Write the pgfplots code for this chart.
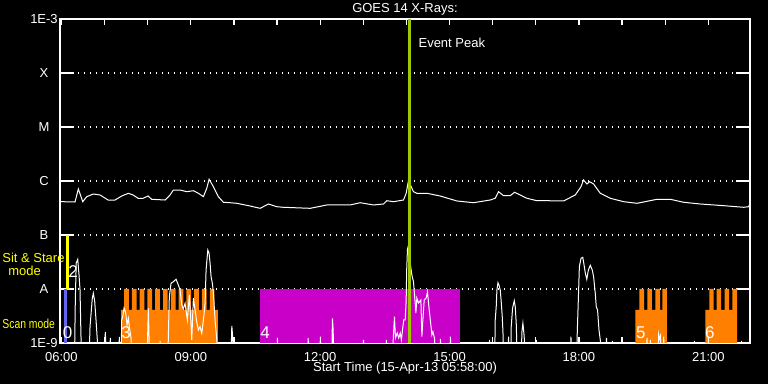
\documentclass[border=0pt]{standalone}
\usepackage{graphicx}
\usepackage{pgfplots}
\pgfplotsset{compat=1.18}
\usepackage{fontspec}
\setmainfont{Liberation Sans}
\definecolor{modeblue}{RGB}{100,100,240}
\definecolor{modeyellow}{RGB}{255,255,0}
\definecolor{modeorange}{RGB}{255,128,0}
\definecolor{modemagenta}{RGB}{200,0,200}
\definecolor{peakgreen}{RGB}{160,200,0}
\newcommand{\lbl}{\fontsize{6.5}{7}\selectfont}
\begin{document}
\begin{tikzpicture}
\useasboundingbox (0,0) rectangle (384pt,192pt);
\fill[black] (0,0) rectangle (384pt,192pt);
\begin{axis}[
  at={(30pt,20.5pt)}, anchor=south west,
  scale only axis, width=345pt, height=162pt,
  xmin=5.9667, xmax=21.9667, ymin=-9, ymax=-3,
  axis line style={white, line width=0.6pt},
  xtick={6,9,12,15,18,21},
  xticklabels={06:00,09:00,12:00,15:00,18:00,21:00},
  minor xtick={7,8,10,11,13,14,16,17,19,20},
  ytick={-9,-8,-7,-6,-5,-4,-3},
  yticklabels={1E-9,A,B,C,M,X,1E-3},
  tick style={white, line width=0.6pt},
  major tick length=7pt, minor tick length=3pt,
  xtick style={/pgfplots/major tick length=3pt},
  ymajorgrids,
  major grid style={white, dash pattern=on 0.6pt off 2.4pt, line width=0.6pt},
  tick label style={white, font=\lbl},
  xticklabel style={yshift=-1pt},
  yticklabel style={anchor=center, xshift=-8pt},
]
% Scan mode / sit & stare bars
\addplot[fill=modeblue, draw=none] coordinates {(6.060,-9) (6.136,-9) (6.136,-8) (6.060,-8)};
\addplot[fill=modeyellow, draw=none] coordinates {(6.106,-8) (6.176,-8) (6.176,-7) (6.106,-7)};
% block 3
\addplot[fill=modeorange, draw=none] coordinates {(7.382,-9) (7.382,-8.389) (7.452,-8.389) (7.452,-8) (7.561,-8) (7.561,-8.389) (7.633,-8.389) (7.633,-8) (7.742,-8) (7.742,-8.389) (7.813,-8.389) (7.813,-8) (7.922,-8) (7.922,-8.389) (7.994,-8.389) (7.994,-8) (8.103,-8) (8.103,-8.389) (8.175,-8.389) (8.175,-8) (8.284,-8) (8.284,-8.389) (8.356,-8.389) (8.356,-8) (8.465,-8) (8.465,-8.389) (8.536,-8.389) (8.536,-8) (8.645,-8) (8.645,-8.389) (8.717,-8.389) (8.717,-8) (8.826,-8) (8.826,-8.389) (8.898,-8.389) (8.898,-8) (9.007,-8) (9.007,-8.389) (9.078,-8.389) (9.078,-8) (9.187,-8) (9.187,-8.389) (9.259,-8.389) (9.259,-8) (9.368,-8) (9.368,-8.389) (9.440,-8.389) (9.440,-8) (9.549,-8) (9.549,-8.389) (9.626,-8.389) (9.626,-9)};
% block 4
\addplot[fill=modemagenta, draw=none] coordinates {(10.607,-9) (15.231,-9) (15.231,-8) (10.607,-8)};
% block 5
\addplot[fill=modeorange, draw=none] coordinates {(19.307,-9) (19.307,-8.389) (19.400,-8.389) (19.400,-8) (19.509,-8) (19.509,-8.389) (19.585,-8.389) (19.585,-8) (19.694,-8) (19.694,-8.389) (19.771,-8.389) (19.771,-8) (19.880,-8) (19.880,-8.389) (19.933,-8.389) (19.933,-8) (20.042,-8) (20.042,-9)};
% block 6
\addplot[fill=modeorange, draw=none] coordinates {(20.931,-9) (20.931,-8.389) (21.024,-8.389) (21.024,-8) (21.124,-8) (21.124,-8.389) (21.193,-8.389) (21.193,-8) (21.295,-8) (21.295,-8.389) (21.379,-8.389) (21.379,-8) (21.480,-8) (21.480,-8.389) (21.558,-8.389) (21.558,-8) (21.666,-8) (21.666,-9)};
% long channel (log10 flux)
\addplot[white, line width=0.5pt] coordinates {
(5.967,-6.383) (6.006,-6.383) (6.315,-6.389) (6.392,-6.148) (6.494,-6.383) (6.586,-6.291) (6.740,-6.241) (6.895,-6.259) (7.081,-6.352) (7.243,-6.352) (7.398,-6.278) (7.552,-6.228) (7.661,-6.259) (7.777,-6.320) (7.893,-6.320) (8.009,-6.278) (8.094,-6.339) (8.403,-6.352) (8.519,-6.259) (8.596,-6.167) (8.751,-6.167) (8.906,-6.198) (9.060,-6.180) (9.176,-6.228) (9.292,-6.291) (9.370,-6.135) (9.424,-5.968) (9.524,-6.106) (9.640,-6.291) (9.756,-6.394) (9.911,-6.402) (10.066,-6.413) (10.375,-6.463) (10.607,-6.506) (10.800,-6.426) (10.994,-6.476) (11.148,-6.487) (11.767,-6.506) (12.154,-6.444) (12.695,-6.444) (12.927,-6.402) (13.236,-6.444) (13.468,-6.426) (13.546,-6.365) (13.700,-6.383) (13.932,-6.352) (13.994,-6.228) (14.047,-5.994) (14.163,-6.198) (14.242,-6.228) (14.475,-6.228) (14.783,-6.278) (15.170,-6.370) (15.556,-6.402) (15.943,-6.352) (16.059,-6.320) (16.136,-6.198) (16.252,-6.272) (16.407,-6.272) (16.507,-6.209) (16.639,-6.259) (16.794,-6.320) (17.026,-6.365) (17.258,-6.365) (17.644,-6.370) (17.915,-6.259) (18.047,-6.106) (18.107,-5.981) (18.186,-6.056) (18.247,-6.013) (18.340,-6.056) (18.495,-6.228) (18.727,-6.320) (19.036,-6.383) (19.346,-6.413) (19.810,-6.339) (20.119,-6.339) (20.428,-6.394) (20.815,-6.426) (21.356,-6.457) (21.820,-6.487) (21.936,-6.476) (21.967,-6.413)};
% short channel (log10 flux)
\addplot[white, line width=0.5pt] coordinates {
(5.967,-9.3) (6.303,-9.3) (6.322,-8.204) (6.343,-7.519) (6.378,-7.450) (6.408,-7.741) (6.431,-8.019) (6.450,-8.759) (6.466,-9.3)
(6.640,-9.3) (6.663,-8.698) (6.716,-8.167) (6.740,-8.080) (6.772,-8.235) (6.802,-8.574) (6.832,-8.944) (6.849,-9.3)
(6.988,-9.3) (7.018,-8.796) (7.046,-9.3) (7.115,-9.3) (7.134,-8.907) (7.150,-9.3) (7.324,-9.3) (7.343,-8.889) (7.359,-9.3)
(7.382,-9.3) (7.398,-8.574) (7.421,-8.513) (7.452,-8.352) (7.486,-8.426) (7.521,-8.667) (7.551,-8.543) (7.579,-8.722) (7.614,-8.907) (7.633,-9.3)
(7.985,-9.3) (8.016,-8.357) (8.043,-9.3) (8.275,-9.3) (8.287,-8.963) (8.298,-9.3)
(8.468,-9.3) (8.479,-8.883) (8.502,-8.143) (8.542,-7.894) (8.595,-7.865) (8.658,-7.820) (8.711,-7.926) (8.751,-8.019) (8.790,-8.296) (8.827,-8.370) (8.867,-8.265) (8.920,-8.574) (8.966,-8.111) (8.999,-8.574) (9.022,-8.944) (9.059,-8.172) (9.099,-8.389) (9.138,-8.611) (9.176,-8.759) (9.215,-8.698) (9.254,-8.820) (9.292,-8.574) (9.331,-8.265) (9.354,-7.648) (9.394,-7.278) (9.424,-7.339) (9.447,-7.524) (9.470,-7.772) (9.500,-7.894) (9.524,-8.080) (9.563,-8.574) (9.603,-8.944) (9.621,-9.3)
(9.930,-9.3) (9.951,-8.685) (9.969,-8.870) (9.985,-9.3)
(10.997,-9.3) (11.009,-8.907) (11.020,-9.3) (11.709,-9.3) (11.721,-8.907) (11.737,-9.3) (11.992,-9.3) (12.004,-8.883) (12.018,-9.3)
(12.268,-9.3) (12.284,-8.543) (12.301,-8.759) (12.315,-9.3) (12.990,-9.3) (13.004,-8.944) (13.020,-9.3) (13.519,-9.3) (13.535,-8.944) (13.554,-9.3)
(13.670,-9.3) (13.698,-8.870) (13.723,-8.513) (13.746,-8.907) (13.786,-8.815) (13.821,-8.907) (13.856,-8.815) (13.883,-8.944) (13.909,-8.759) (13.937,-8.574) (13.971,-8.574) (13.994,-8.204) (14.006,-7.648) (14.024,-7.265) (14.052,-7.370) (14.087,-7.519) (14.126,-7.741) (14.163,-7.865) (14.203,-8.259) (14.219,-8.444) (14.242,-8.167) (14.279,-8.259) (14.335,-8.204) (14.358,-8.883) (14.381,-8.574) (14.412,-8.204) (14.458,-8.167) (14.488,-8.050) (14.528,-8.389) (14.567,-8.667) (14.590,-8.852) (14.614,-8.791) (14.651,-8.913) (14.679,-9.3)
(14.772,-9.3) (14.788,-8.926) (14.807,-9.3) (15.004,-9.3) (15.020,-8.883) (15.039,-9.3)
(15.915,-9.3) (15.927,-8.944) (15.943,-9.3)
(16.047,-9.3) (16.059,-8.574) (16.082,-8.328) (16.098,-8.019) (16.122,-7.883) (16.145,-7.926) (16.175,-8.019) (16.198,-8.235) (16.222,-8.513) (16.238,-8.791) (16.257,-9.3)
(16.356,-9.3) (16.368,-8.883) (16.384,-9.3) (16.419,-9.3) (16.430,-8.698) (16.461,-8.357) (16.500,-8.217) (16.523,-8.328) (16.546,-8.635) (16.569,-9.3)
(16.662,-9.3) (16.678,-8.791) (16.701,-8.635) (16.731,-8.883) (16.748,-9.3) (16.998,-9.3) (17.010,-8.944) (17.026,-9.3)
(17.804,-9.3) (17.815,-8.883) (17.830,-9.3) (17.945,-9.3) (17.963,-8.759) (17.987,-8.172) (18.010,-7.587) (18.049,-7.431) (18.089,-7.413) (18.119,-7.556) (18.149,-7.709) (18.182,-7.820) (18.219,-7.648) (18.263,-7.561) (18.309,-7.648) (18.340,-7.772) (18.379,-8.080) (18.402,-8.328) (18.432,-8.389) (18.465,-8.759) (18.495,-8.944) (18.511,-9.3)
(18.627,-9.3) (18.639,-8.907) (18.653,-9.3) (18.762,-9.3) (18.774,-8.963) (18.786,-9.3)
(19.568,-9.3) (19.579,-8.907) (19.598,-9.3) (19.645,-9.3) (19.655,-8.944) (19.667,-9.3) (19.837,-9.3) (19.848,-8.852) (19.865,-8.926) (19.888,-8.870) (19.911,-9.3) (19.953,-9.3) (19.964,-8.883) (19.981,-9.3)
(20.665,-9.3) (20.676,-8.963) (20.688,-9.3) (20.991,-9.3) (21.001,-8.883) (21.015,-9.3) (21.759,-9.3) (21.771,-8.963) (21.782,-9.3) (21.967,-9.3)};
% event peak line
\addplot[peakgreen, line width=1.5pt] coordinates {(14.064,-9) (14.064,-3)};
\node[white, anchor=west, inner sep=0pt, font=\lbl] at (axis cs:14.064,-3.437) [xshift=4.5pt] {Event Peak};
\node[white, font=\fontsize{8.5}{9}\selectfont] at (axis cs:6.141,-8.815) {0};
\node[white, font=\fontsize{8.5}{9}\selectfont] at (axis cs:6.269,-7.676) {2};
\node[white, font=\fontsize{8.5}{9}\selectfont] at (axis cs:7.498,-8.815) {3};
\node[white, font=\fontsize{8.5}{9}\selectfont] at (axis cs:10.723,-8.815) {4};
\node[white, font=\fontsize{8.5}{9}\selectfont] at (axis cs:19.435,-8.815) {5};
\node[white, font=\fontsize{8.5}{9}\selectfont] at (axis cs:21.036,-8.815) {6};
\end{axis}
\node[white, font=\lbl] at (202.5pt,187.5pt) {GOES 14 X-Rays:};
\node[white, font=\lbl] at (202.5pt,8pt) {Start Time (15-Apr-13 05:58:00)};
\node[modeyellow, font=\lbl, anchor=west, inner sep=0pt] at (1pt,63pt) {Sit \& Stare};
\node[modeyellow, font=\lbl] at (12.3pt,56.5pt) {mode};
\node[modeyellow, font=\lbl, anchor=west, inner sep=0pt] at (1pt,30.25pt) {\scalebox{0.8}[1]{Scan mode}};
\end{tikzpicture}
\end{document}
